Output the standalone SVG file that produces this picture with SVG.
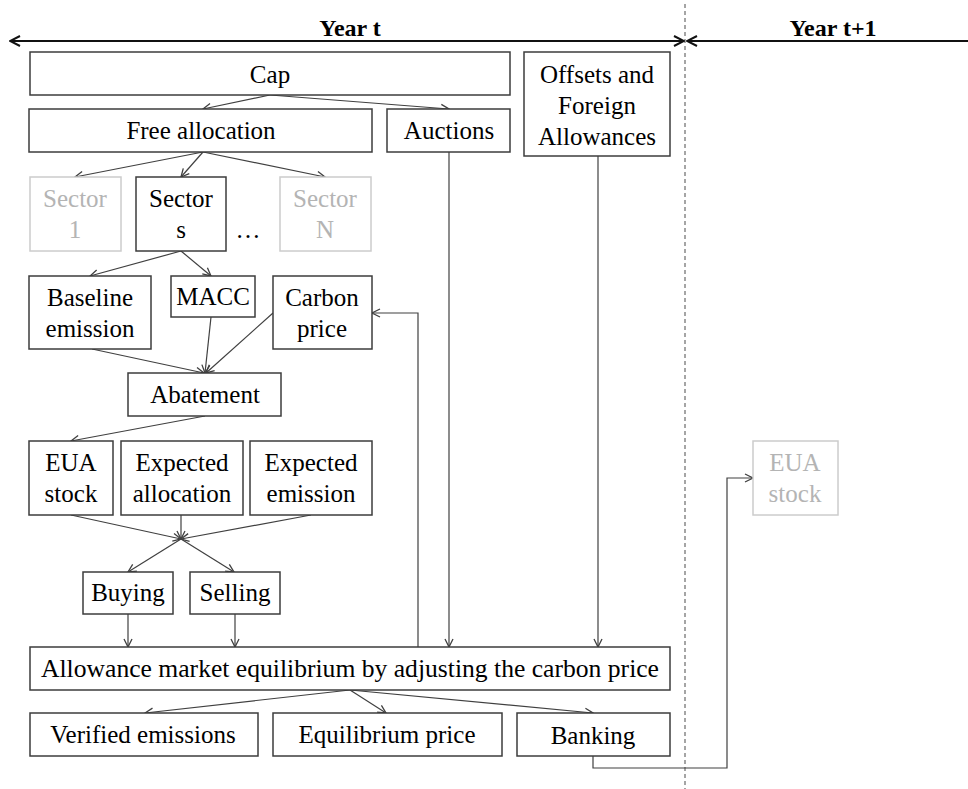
<svg xmlns="http://www.w3.org/2000/svg" width="968" height="789" viewBox="0 0 968 789">
<style>
.box{fill:#fff;stroke:#3c3c3c;stroke-width:1.5}
.gbox{fill:#fff;stroke:#cccccc;stroke-width:1.5}
text{font-family:"Liberation Serif","DejaVu Serif",serif;font-size:25px;text-anchor:middle;fill:#000}
.g{fill:#b4b4b4}
.hd{font-weight:bold;font-size:24px}
.c{fill:none;stroke:#404040;stroke-width:1.2}
.tl{fill:none;stroke:#111;stroke-width:2}
</style>
<defs>
<marker id="a" viewBox="0 0 10 10" refX="9" refY="5" markerWidth="10" markerHeight="10" markerUnits="userSpaceOnUse" orient="auto">
<path d="M1,1 L9,5 L1,9" fill="none" stroke="#404040" stroke-width="1.3"/>
</marker>
<marker id="t" viewBox="0 0 12 12" refX="11" refY="6" markerWidth="12" markerHeight="12" markerUnits="userSpaceOnUse" orient="auto">
<path d="M1,1 L11,6 L1,11" fill="none" stroke="#111" stroke-width="2"/>
</marker>
</defs>

<g id="timeline">
<line x1="685" y1="4" x2="685" y2="789" stroke="#888" stroke-width="1.5" stroke-dasharray="4,3"/>
<line class="tl" x1="683" y1="41" x2="10" y2="41" marker-end="url(#t)"/>
<line class="tl" x1="12" y1="41" x2="684" y2="41" marker-end="url(#t)"/>
<line class="tl" x1="968" y1="41" x2="687" y2="41" marker-end="url(#t)"/>
<text class="hd" x="350" y="36">Year t</text>
<text class="hd" x="833" y="36">Year t+1</text>
</g>

<g id="connectors">
<line class="c" x1="270" y1="95" x2="203" y2="109" marker-end="url(#a)"/>
<line class="c" x1="270" y1="95" x2="449" y2="109" marker-end="url(#a)"/>
<line class="c" x1="203" y1="152" x2="75" y2="177" marker-end="url(#a)"/>
<line class="c" x1="203" y1="152" x2="181" y2="177" marker-end="url(#a)"/>
<line class="c" x1="203" y1="152" x2="325" y2="177" marker-end="url(#a)"/>
<line class="c" x1="181" y1="251" x2="90" y2="276" marker-end="url(#a)"/>
<line class="c" x1="181" y1="251" x2="211" y2="276" marker-end="url(#a)"/>
<line class="c" x1="92" y1="349" x2="204" y2="373" marker-end="url(#a)"/>
<line class="c" x1="211" y1="317" x2="205" y2="373" marker-end="url(#a)"/>
<line class="c" x1="273" y1="313" x2="206" y2="373" marker-end="url(#a)"/>
<line class="c" x1="205" y1="416" x2="71" y2="441" marker-end="url(#a)"/>
<line class="c" x1="71" y1="515" x2="181" y2="539" marker-end="url(#a)"/>
<line class="c" x1="181" y1="515" x2="181" y2="539" marker-end="url(#a)"/>
<line class="c" x1="311" y1="515" x2="181" y2="539" marker-end="url(#a)"/>
<line class="c" x1="181" y1="539" x2="128" y2="572" marker-end="url(#a)"/>
<line class="c" x1="181" y1="539" x2="234" y2="572" marker-end="url(#a)"/>
<line class="c" x1="128" y1="614" x2="128" y2="647" marker-end="url(#a)"/>
<line class="c" x1="235" y1="614" x2="235" y2="647" marker-end="url(#a)"/>
<line class="c" x1="449" y1="152" x2="449" y2="647" marker-end="url(#a)"/>
<line class="c" x1="598" y1="156" x2="598" y2="647" marker-end="url(#a)"/>
<polyline class="c" points="418,647 418,313 372,313" marker-end="url(#a)"/>
<line class="c" x1="350" y1="690" x2="145" y2="713" marker-end="url(#a)"/>
<line class="c" x1="350" y1="690" x2="386" y2="713" marker-end="url(#a)"/>
<line class="c" x1="350" y1="690" x2="593" y2="713" marker-end="url(#a)"/>
<polyline class="c" points="593,756 593,768 727,768 727,478 753,478" marker-end="url(#a)"/>
</g>

<g id="cap"><rect class="box" x="30" y="52" width="480" height="43"/><text x="270" y="83">Cap</text></g>
<g id="free-allocation"><rect class="box" x="29" y="109" width="343" height="43"/><text x="201" y="139">Free allocation</text></g>
<g id="auctions"><rect class="box" x="387" y="109" width="123" height="43"/><text x="449" y="139">Auctions</text></g>
<g id="offsets"><rect class="box" x="524" y="52" width="146" height="104"/><text x="597" y="83">Offsets and</text><text x="597" y="114">Foreign</text><text x="597" y="145">Allowances</text></g>
<g id="sector-1"><rect class="gbox" x="30" y="177" width="91" height="74"/><text class="g" x="75" y="207">Sector</text><text class="g" x="75" y="238">1</text></g>
<g id="sector-s"><rect class="box" x="136" y="177" width="90" height="74"/><text x="181" y="207">Sector</text><text x="181" y="238">s</text></g>
<g id="dots"><text x="248" y="238">…</text></g>
<g id="sector-n"><rect class="gbox" x="280" y="177" width="91" height="74"/><text class="g" x="325" y="207">Sector</text><text class="g" x="325" y="238">N</text></g>
<g id="baseline"><rect class="box" x="29" y="276" width="122" height="73"/><text x="90" y="306">Baseline</text><text x="90" y="337">emission</text></g>
<g id="macc"><rect class="box" x="171" y="276" width="84" height="41"/><text x="213" y="305">MACC</text></g>
<g id="carbon-price"><rect class="box" x="273" y="276" width="99" height="73"/><text x="322" y="306">Carbon</text><text x="322" y="337">price</text></g>
<g id="abatement"><rect class="box" x="128" y="373" width="153" height="43"/><text x="205" y="403">Abatement</text></g>
<g id="eua-stock"><rect class="box" x="29" y="441" width="84" height="74"/><text x="71" y="471">EUA</text><text x="71" y="502">stock</text></g>
<g id="expected-allocation"><rect class="box" x="121" y="441" width="122" height="74"/><text x="182" y="471">Expected</text><text x="182" y="502">allocation</text></g>
<g id="expected-emission"><rect class="box" x="250" y="441" width="122" height="74"/><text x="311" y="471">Expected</text><text x="311" y="502">emission</text></g>
<g id="buying"><rect class="box" x="83" y="572" width="90" height="42"/><text x="128" y="601">Buying</text></g>
<g id="selling"><rect class="box" x="190" y="572" width="90" height="42"/><text x="235" y="601">Selling</text></g>
<g id="market"><rect class="box" x="30" y="647" width="640" height="43"/><text x="350" y="677" textLength="618" lengthAdjust="spacingAndGlyphs">Allowance market equilibrium by adjusting the carbon price</text></g>
<g id="verified"><rect class="box" x="30" y="713" width="228" height="43"/><text x="143" y="743">Verified emissions</text></g>
<g id="equilibrium"><rect class="box" x="273" y="713" width="229" height="43"/><text x="387" y="743">Equilibrium price</text></g>
<g id="banking"><rect class="box" x="517" y="713" width="153" height="43"/><text x="593" y="744">Banking</text></g>
<g id="eua-stock-next"><rect class="gbox" x="753" y="441" width="85" height="74"/><text class="g" x="795" y="471">EUA</text><text class="g" x="795" y="502">stock</text></g>
</svg>
